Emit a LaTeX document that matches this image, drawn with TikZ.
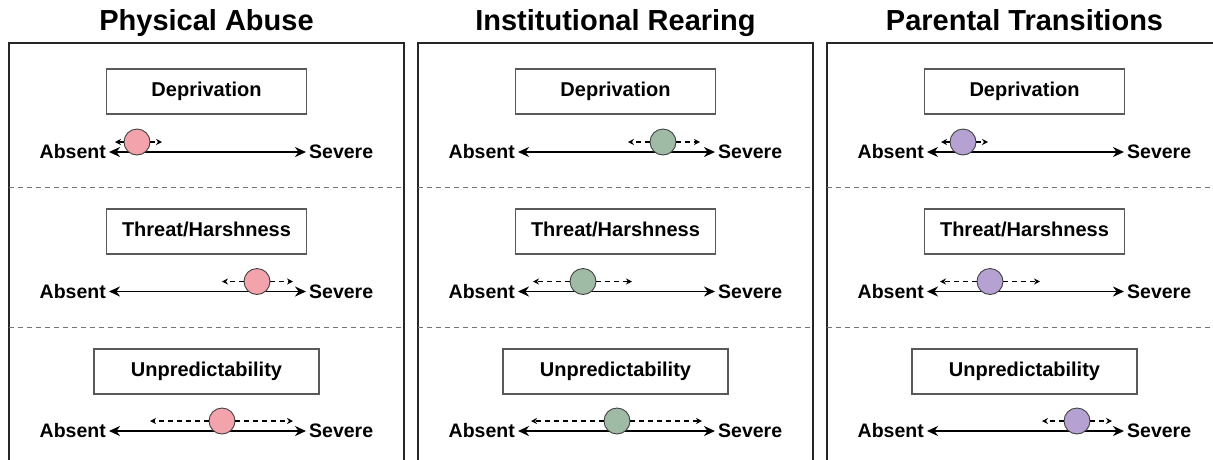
\documentclass[tikz,border=0pt]{standalone}
\usepackage{fontspec}
\setmainfont{Liberation Sans}
\usetikzlibrary{calc,arrows.meta}
\definecolor{abusepink}{HTML}{F2A3AC}
\definecolor{rearinggreen}{HTML}{9FBBA5}
\definecolor{transpurple}{HTML}{B5A2D3}
\begin{document}
\begin{tikzpicture}[x=1pt,y=-1pt]%%dimensions

                \tikzstyle{panel}  = [draw=black!85, line width=1.8pt]
                \tikzstyle{ptitle} = [anchor=base, inner sep=0pt, font=\fontsize{29}{32}\selectfont\bfseries]
                \tikzstyle{dimbox} = [draw=black!65, line width=1.1pt, minimum height=45pt, inner sep=0pt, text height=14pt, text depth=4pt, font=\fontsize{20}{23}\selectfont\bfseries]
                \tikzstyle{endlab} = [inner sep=0pt, font=\fontsize{19.5}{22}\selectfont\bfseries]
                \tikzstyle{axis}   = [line width=1.8pt, {Stealth[length=11pt,width=10pt]}-{Stealth[length=11pt,width=10pt]}]
                \tikzstyle{sep}    = [draw=black!55, line width=1pt, dash pattern=on 5pt off 4pt]
                \tikzstyle{marker} = [circle, draw=black!75, line width=0.9pt, minimum size=26pt, inner sep=0pt]
                \tikzstyle{drift}  = [line width=1.1pt, dash pattern=on 5pt off 4pt, -{Stealth[length=6pt,width=6pt]}]

                \useasboundingbox (0,0) rectangle (1213,459);
                \clip (0,0) rectangle (1213,459);

                \foreach \p/\px/\ttl in {1/9/Physical Abuse,2/418/Institutional Rearing,3/827/Parental Transitions}{
                        \draw [panel] (\px,470) -- (\px,43) -- (\px+395,43) -- (\px+395,470);
                        \node [ptitle](t\p) at (\px+197.5,30) {\ttl};
                        \foreach \sy in {187,327}
                                \draw [sep] (\px,\sy) -- (\px+395,\sy);
                        \foreach \r/\dim/\bw in {1/Deprivation/200,2/{Threat/Harshness}/200,3/Unpredictability/225}{
                                \pgfmathsetmacro\by{91.5+140*(\r-1)}
                                \pgfmathsetmacro\ay{152+139.5*(\r-1)}
                                \node [dimbox, minimum width=\bw pt](b\p\r) at (\px+197.5,\by) {\dim};
                                \node [endlab, anchor=east](abs\p\r) at (\px+97,\ay) {Absent};
                                \node [endlab, anchor=west](sev\p\r) at (\px+300,\ay) {Severe};
                                \coordinate (al\p\r) at ($(abs\p\r.east)+(3,0)$);
                                \coordinate (ar\p\r) at ($(sev\p\r.west)+(-3,0)$);
                                \draw [axis] (al\p\r) -- (ar\p\r);
                        }
                }

                \foreach \p/\px/\col/\r/\cx/\lx/\rx in {1/9/abusepink/1/128/106/153, 1/9/abusepink/2/248/213/284, 1/9/abusepink/3/213/141/284,
                        2/418/rearinggreen/1/245/210/282, 2/418/rearinggreen/2/165/115/214, 2/418/rearinggreen/3/199/113/284,
                        3/827/transpurple/1/136/114/161, 3/827/transpurple/2/163/113/213, 3/827/transpurple/3/250/215/285}{
                        \pgfmathsetmacro\cy{142+139.5*(\r-1)}
                        \node [marker, fill=\col](c\p\r) at (\px+\cx,\cy) {};
                        \coordinate (lt\p\r) at (\px+\lx,\cy);
                        \coordinate (rt\p\r) at (\px+\rx,\cy);
                        \draw [drift] (c\p\r) -- (lt\p\r);
                        \draw [drift] (c\p\r) -- (rt\p\r);
                }
\end{tikzpicture}
\end{document}
